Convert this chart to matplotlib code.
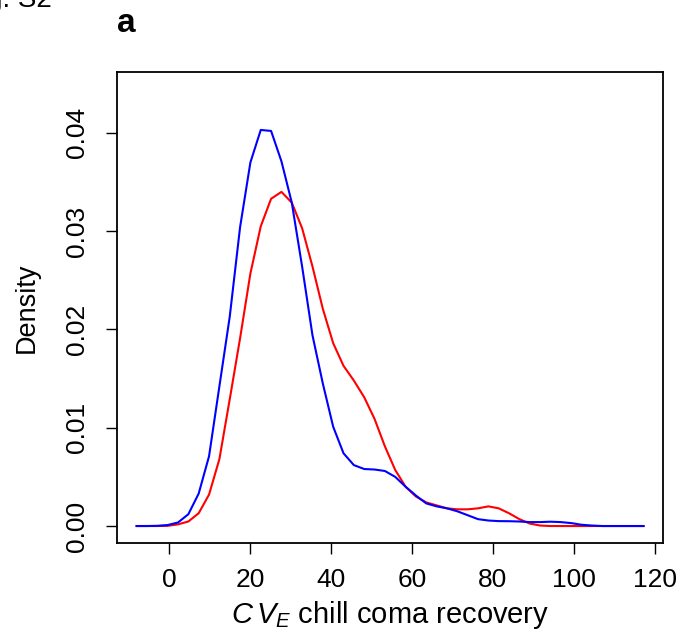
import matplotlib
matplotlib.use("Agg")
import matplotlib.pyplot as plt

# density curves (50 evaluation points each)
cv_e = [-7.98, -5.43, -2.87, -0.32, 2.24, 4.79, 7.34, 9.90, 12.45, 15.01,
        17.56, 20.11, 22.67, 25.22, 27.78, 30.33, 32.88, 35.44, 37.99, 40.55,
        43.10, 45.65, 48.21, 50.76, 53.32, 55.87, 58.42, 60.98, 63.53, 66.09,
        68.64, 71.19, 73.75, 76.30, 78.86, 81.41, 83.96, 86.52, 89.07, 91.63,
        94.18, 96.73, 99.29, 101.84, 104.40, 106.95, 109.50, 112.06, 114.61, 117.17]

dens_blue = [0.0, 0.0, 0.00002, 0.0001, 0.00036, 0.0012, 0.0033, 0.0071, 0.0142, 0.0213,
             0.0304, 0.0370, 0.0403, 0.0402, 0.0371, 0.0329, 0.0264, 0.0194, 0.0145, 0.0101,
             0.0074, 0.0062, 0.0058, 0.00575, 0.0056, 0.0050, 0.0040, 0.0031, 0.0023, 0.0020,
             0.0018, 0.0015, 0.0011, 0.0007, 0.00056, 0.0005, 0.00049, 0.00046, 0.0004, 0.0004,
             0.00044, 0.0004, 0.0003, 0.00013, 0.00005, 0.0, 0.0, 0.0, 0.0, 0.0]

dens_red = [0.0, 0.0, 0.0, 0.00002, 0.00017, 0.00046, 0.0013, 0.0032, 0.0068, 0.0129,
            0.0191, 0.0257, 0.0305, 0.0333, 0.0340, 0.0329, 0.0303, 0.0264, 0.0221, 0.0186,
            0.0163, 0.0148, 0.0131, 0.0109, 0.0081, 0.0057, 0.0040, 0.0030, 0.0024, 0.0021,
            0.0018, 0.0017, 0.0017, 0.0018, 0.0020, 0.0018, 0.0013, 0.0007, 0.00025, 0.00005,
            0.0, 0.0, 0.0, 0.0, 0.0, 0.0, 0.0, 0.0, 0.0, 0.0]

x_ticks = [0, 20, 40, 60, 80, 100, 120]
y_ticks = [0.00, 0.01, 0.02, 0.03, 0.04]

plt.rcParams['font.family'] = ['Liberation Sans', 'DejaVu Sans']
plt.rcParams['mathtext.fontset'] = 'custom'
plt.rcParams['mathtext.it'] = 'Liberation Sans:italic'
plt.rcParams['mathtext.rm'] = 'Liberation Sans'

fig = plt.figure(figsize=(6.82, 6.42), dpi=100)
ax = fig.add_axes([0.1711, 0.1537, 0.8015, 0.7342])

ax.plot(cv_e, dens_red, color='#ff0000', lw=1.5)
ax.plot(cv_e, dens_blue, color='#0000ff', lw=1.5)

ax.set_xlim(-12.9, 122.05)
ax.set_ylim(-0.00176, 0.0462)
ax.set_xticks(x_ticks)
ax.set_xticklabels([str(t) for t in x_ticks])
ax.set_yticks(y_ticks)
ax.set_yticklabels([f"{t:.2f}" for t in y_ticks], rotation=90, va='center')

ax.tick_params(axis='both', direction='out', length=8, width=1, labelsize=19, color='black')
ax.tick_params(axis='x', pad=10)
ax.tick_params(axis='y', pad=12)
for sp in ax.spines.values():
    sp.set_linewidth(1.3)

ax.set_ylabel('Density', fontsize=19.5, labelpad=18)
ax.set_xlabel(r'$C\,V_E$ chill coma recovery', fontsize=21, labelpad=5)

fig.text(126 / 682, 1 - 24 / 642, 'a', fontsize=24, fontweight='bold', ha='center', va='center')
fig.text(52 / 682, 1 - 6.7 / 642, 'Fig. S2', fontsize=20, ha='right', va='baseline')

fig.savefig('out.png', dpi=100)
